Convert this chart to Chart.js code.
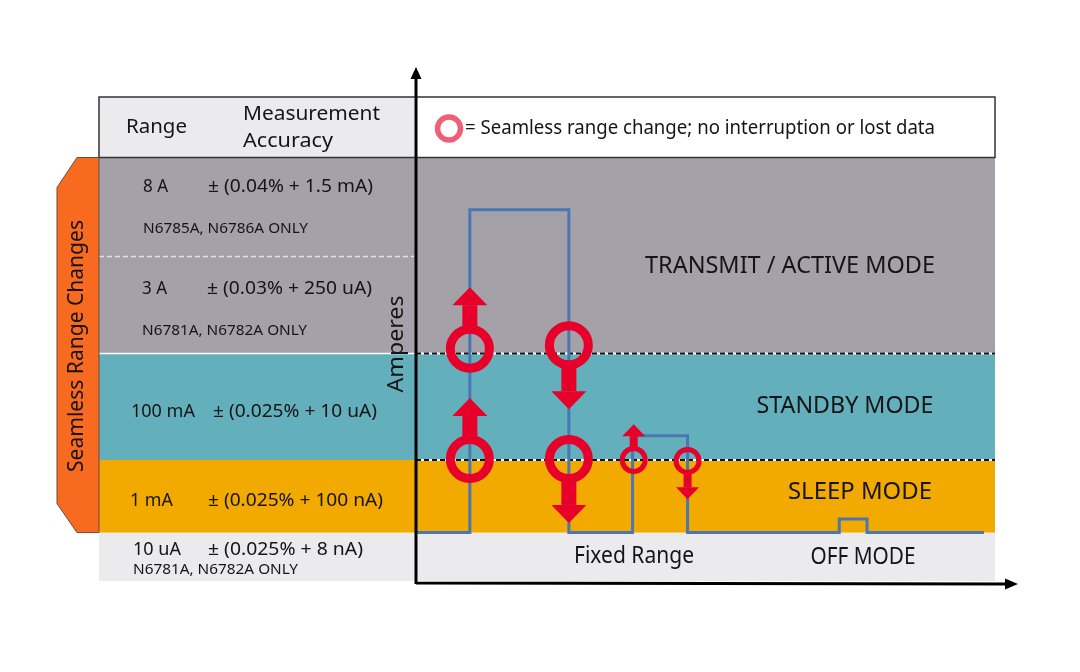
<!DOCTYPE html>
<html>
<head>
<meta charset="utf-8">
<script src="https://cdn.jsdelivr.net/npm/chart.js@4.4.1/dist/chart.umd.min.js"></script>
<style>
  html, body { margin: 0; padding: 0; background: #fff; }
  #wrap { width: 1080px; height: 672px; position: relative; }
</style>
</head>
<body>
<div id="wrap"><canvas id="modeChart"></canvas></div>
<script>
// current trace: time (% of window) where the level changes, and the new level
const traceTime  = [0, 9.3, 26.4, 37.4, 46.9, 73.1, 77.9, 98.1];
const traceLevel = [1.0, 7.67, 1.0, 3.0, 1.0, 1.28, 1.0, 1.0];

// operating mode bands, bottom to top
const bandNames  = ["OFF MODE", "SLEEP MODE", "STANDBY MODE", "TRANSMIT / ACTIVE MODE"];
const bandBottom = [0, 1.0, 2.5, 4.7];
const bandTop    = [1.0, 2.5, 4.7, 8.75];

// range table
const rangeLabels    = ["8 A", "3 A", "100 mA", "1 mA", "10 uA"];
const accuracyLabels = ["± (0.04% + 1.5 mA)", "± (0.03% + 250 uA)", "± (0.025% + 10 uA)", "± (0.025% + 100 nA)", "± (0.025% + 8 nA)"];
const modelNotes     = ["N6785A, N6786A ONLY", "N6781A, N6782A ONLY", "", "", "N6781A, N6782A ONLY"];

// seamless range change markers
const changeTime  = [9.3, 26.4, 9.3, 26.4, 37.6, 46.9];
const changeLevel = [4.8, 4.87, 2.52, 2.52, 2.5, 2.48];
const changeBig   = [true, true, true, true, false, false];
const arrowTip    = [6.07, 3.55, 3.78, 1.2, 3.24, 1.69];

const RED = "#e6002a";
const FONT = '"Noto Sans", "Open Sans", sans-serif';

function label(ctx, text, x, y, size, opts = {}) {
  ctx.save();
  ctx.font = `${size}px ${FONT}`;
  ctx.fillStyle = opts.color || "#151515";
  ctx.textAlign = opts.align || "left";
  ctx.textBaseline = "middle";
  ctx.translate(x, y);
  if (opts.rotate) ctx.rotate(opts.rotate);
  if (opts.width) {
    const w = ctx.measureText(text).width;
    ctx.scale(opts.width / w, 1);
  }
  ctx.fillText(text, 0, 0);
  ctx.restore();
}

function hLine(ctx, x0, x1, y, color, width, dash) {
  ctx.save();
  ctx.strokeStyle = color;
  ctx.lineWidth = width;
  ctx.setLineDash(dash || []);
  ctx.beginPath();
  ctx.moveTo(x0, y);
  ctx.lineTo(x1, y);
  ctx.stroke();
  ctx.restore();
}

// bands, left table and header behind the trace
const backdrop = {
  id: "backdrop",
  beforeDatasetsDraw(chart) {
    const { ctx, chartArea: a, scales: { y } } = chart;
    const tableLeft = 99, tableRight = 414;
    const bandColors = ["#ebebee", "#f2a900", "#63b0bc", "#a5a1a8"];

    bandNames.forEach((name, i) => {
      const top = y.getPixelForValue(bandTop[i]);
      const bottom = y.getPixelForValue(bandBottom[i]);
      ctx.fillStyle = bandColors[i];
      ctx.fillRect(tableLeft, top, a.right - tableLeft, bottom - top);
    });

    // header row
    const headTop = a.top, headBottom = y.getPixelForValue(bandTop[3]);
    ctx.fillStyle = "#ebebee";
    ctx.fillRect(tableLeft, headTop, tableRight - tableLeft, headBottom - headTop);
    ctx.fillStyle = "#fff";
    ctx.fillRect(tableRight, headTop, a.right - tableRight, headBottom - headTop);
    ctx.strokeStyle = "#333";
    ctx.lineWidth = 1.5;
    ctx.strokeRect(tableLeft, headTop, a.right - tableLeft, headBottom - headTop);

    // separators in the table
    const midGray = (y.getPixelForValue(bandTop[3]) + y.getPixelForValue(bandBottom[3])) / 2;
    hLine(ctx, tableLeft, tableRight, midGray + 1, "#e4e4e6", 1.5, [5, 3]);
    hLine(ctx, tableLeft, tableRight, y.getPixelForValue(bandTop[2]), "#fff", 1.5);

    // range change thresholds in the plot
    [bandTop[1], bandTop[2]].forEach(v => {
      const py = y.getPixelForValue(v);
      hLine(ctx, a.left, a.right, py, "#fff", 2);
      hLine(ctx, a.left, a.right, py, "#111", 2, [5, 3]);
    });

    // orange tag on the left
    const tagTop = headBottom, tagBottom = y.getPixelForValue(bandTop[0]);
    ctx.fillStyle = "#f86a1f";
    ctx.strokeStyle = "#6b4a3a";
    ctx.lineWidth = 1;
    ctx.beginPath();
    ctx.moveTo(tableLeft, tagTop);
    ctx.lineTo(77, tagTop);
    ctx.lineTo(57, tagTop + 30);
    ctx.lineTo(57, tagBottom - 29);
    ctx.lineTo(77, tagBottom);
    ctx.lineTo(tableLeft, tagBottom);
    ctx.closePath();
    ctx.fill();
    ctx.stroke();

    // table text
    label(ctx, "Range", 126, 127, 20, { width: 61 });
    label(ctx, "Measurement", 243, 114, 20, { width: 137 });
    label(ctx, "Accuracy", 243, 141, 20, { width: 90 });

    const rowY   = [187, 289, 412, 501, 550];
    const rangeX = [143, 142, 131, 130, 133];
    const rangeW = [25, 25, 64, 43, 48];
    const accX   = [208, 207, 213, 208, 208];
    const accW   = [165, 165, 164, 175, 155];
    const noteY  = [229, 331, 0, 0, 570];
    const noteX  = [143, 142, 0, 0, 133];
    rangeLabels.forEach((r, i) => {
      label(ctx, r, rangeX[i], rowY[i], 18, { width: rangeW[i] });
      label(ctx, accuracyLabels[i], accX[i], rowY[i], 18, { width: accW[i] });
      if (modelNotes[i]) label(ctx, modelNotes[i], noteX[i], noteY[i], 15, { width: 165 });
    });

    label(ctx, "Seamless Range Changes", 77, 346, 22, { align: "center", rotate: -Math.PI / 2, width: 252 });
    label(ctx, "Amperes", 397, 344, 22, { align: "center", rotate: -Math.PI / 2, width: 97 });

    // legend text in header
    label(ctx, "= Seamless range change; no interruption or lost data", 465, 129, 19, { width: 470 });

    // mode names
    label(ctx, bandNames[3], 790, 266, 23, { align: "center", width: 290 });
    label(ctx, bandNames[2], 845, 406, 23, { align: "center", width: 177 });
    label(ctx, bandNames[1], 860, 492, 23, { align: "center", width: 144 });
    label(ctx, bandNames[0], 863, 557, 23, { align: "center", width: 105 });
    label(ctx, "Fixed Range", 634, 556, 23, { align: "center", width: 120 });
  }
};

// arrows at the range change markers, plus the two axis arrows
const overlay = {
  id: "overlay",
  afterDatasetsDraw(chart) {
    const { ctx, chartArea: a, scales: { x, y } } = chart;

    changeTime.forEach((t, i) => {
      const px = x.getPixelForValue(t);
      const cy = y.getPixelForValue(changeLevel[i]);
      const tip = y.getPixelForValue(arrowTip[i]);
      const dir = tip < cy ? -1 : 1;
      const outer = changeBig[i] ? 24 : 14;
      const shaft = changeBig[i] ? 15 : 8;
      const headW = changeBig[i] ? 35 : 23;
      const headL = changeBig[i] ? 18 : 12;
      const base = tip - dir * headL;
      const start = cy + dir * (outer - 3);
      ctx.fillStyle = RED;
      ctx.fillRect(px - shaft / 2, Math.min(start, base), shaft, Math.abs(base - start));
      ctx.beginPath();
      ctx.moveTo(px - headW / 2, base);
      ctx.lineTo(px + headW / 2, base);
      ctx.lineTo(px, tip);
      ctx.closePath();
      ctx.fill();
    });

    // axes
    ctx.save();
    ctx.strokeStyle = "#000";
    ctx.fillStyle = "#000";
    ctx.lineWidth = 3;
    ctx.beginPath();
    ctx.moveTo(416, 584);
    ctx.lineTo(416, 76);
    ctx.moveTo(416, 583);
    ctx.lineTo(1008, 584);
    ctx.stroke();
    ctx.beginPath();
    ctx.moveTo(416, 67);
    ctx.lineTo(410.5, 79);
    ctx.lineTo(421.5, 79);
    ctx.closePath();
    ctx.fill();
    ctx.beginPath();
    ctx.moveTo(1018, 584);
    ctx.lineTo(1005, 578.5);
    ctx.lineTo(1005, 589.5);
    ctx.closePath();
    ctx.fill();
    ctx.restore();
  }
};

const ctx = document.getElementById("modeChart").getContext("2d");

new Chart(ctx, {
  type: "line",
  data: {
    datasets: [
      {
        label: "Current",
        data: traceTime.map((t, i) => ({ x: t, y: traceLevel[i] })),
        stepped: "before",
        borderColor: "#4a77b2",
        borderWidth: 3,
        pointRadius: 0,
        fill: false,
        order: 2
      },
      {
        label: "Seamless range change",
        data: changeTime.map((t, i) => ({ x: t, y: changeLevel[i] })),
        showLine: false,
        pointStyle: "circle",
        pointRadius: changeBig.map(b => b ? 19.5 : 11.5),
        pointBorderWidth: changeBig.map(b => b ? 9 : 5),
        pointBackgroundColor: "rgba(0,0,0,0)",
        pointBorderColor: RED,
        order: 1
      },
      {
        label: "Legend marker",
        data: [{ x: 5.7, y: 9.35 }],
        showLine: false,
        pointRadius: 11.5,
        pointBorderWidth: 5.5,
        pointBackgroundColor: "rgba(0,0,0,0)",
        pointBorderColor: "#f05f78",
        clip: false,
        order: 0
      }
    ]
  },
  options: {
    responsive: true,
    maintainAspectRatio: false,
    animation: false,
    layout: { padding: { left: 416, right: 85, top: 97, bottom: 91 } },
    scales: {
      x: { type: "linear", min: 0, max: 100, display: false },
      y: { type: "linear", min: 0, max: 10, display: false }
    },
    plugins: {
      legend: { display: false },
      tooltip: { enabled: false }
    },
    events: []
  },
  plugins: [backdrop, overlay]
});
</script>
</body>
</html>
